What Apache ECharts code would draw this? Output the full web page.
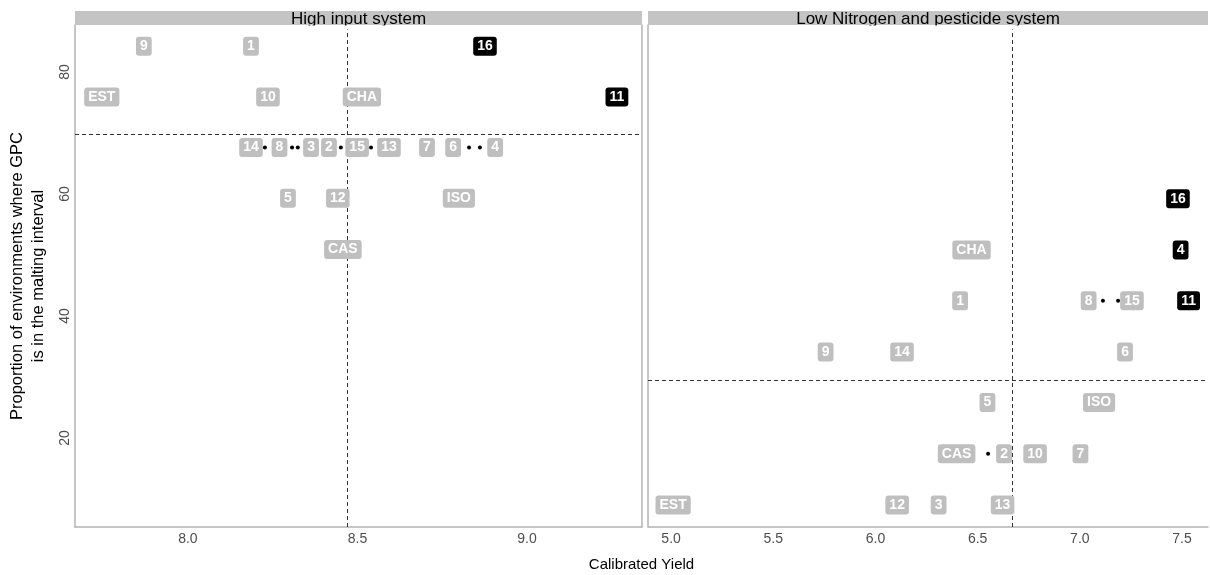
<!DOCTYPE html>
<html>
<head>
<meta charset="utf-8">
<script src="https://cdn.jsdelivr.net/npm/echarts@6/dist/echarts.min.js"></script>
<style>html,body{margin:0;padding:0;background:#fff}#c{width:1210px;height:575px}</style>
</head>
<body>
<div id="c"></div>
<script>
// ---- Data: High input system ----
const highNames = ['9','1','16','EST','10','CHA','11','14','8','3','2','15','13','7','6','4','5','12','ISO','CAS'];
const highYield = [7.870,8.186,8.876,7.746,8.236,8.513,9.265,8.186,8.270,8.363,8.416,8.499,8.593,8.705,8.782,8.906,8.295,8.442,8.799,8.457];
const highProp  = [84.2,84.2,84.2,75.9,75.9,75.9,75.9,67.6,67.6,67.6,67.6,67.6,67.6,67.6,67.6,67.6,59.3,59.3,59.3,50.9];
const highTop = ['16','11'];
const highDotYield = [8.227,8.307,8.324,8.451,8.540,8.829,8.861];
const highDotProp  = [67.6,67.6,67.6,67.6,67.6,67.6,67.6];
const highMeanYield = 8.47;
const highMeanProp = 69.8;

// ---- Data: Low Nitrogen and pesticide system ----
const lowNames = ['16','CHA','4','1','8','15','11','9','14','6','5','ISO','CAS','2','10','7','EST','12','3','13'];
const lowYield = [7.480,6.470,7.493,6.414,7.043,7.255,7.532,5.756,6.130,7.221,6.548,7.094,6.397,6.629,6.781,7.003,5.010,6.106,6.309,6.622];
const lowProp  = [59.2,50.8,50.8,42.5,42.5,42.5,42.5,34.1,34.1,34.1,25.8,25.8,17.4,17.4,17.4,17.4,9.0,9.0,9.0,9.0];
const lowTop = ['16','4','11'];
const lowDotYield = [7.113,7.187,6.551];
const lowDotProp  = [42.5,42.5,17.4];
const lowMeanYield = 6.668;
const lowMeanProp = 29.5;

// ---- Tick labels ----
const xTicksHigh = [8.0, 8.5, 9.0];
const xTicksLow = [5.0, 5.5, 6.0, 6.5, 7.0, 7.5];
const yTicks = [20, 40, 60, 80];
const panelTitles = ['High input system', 'Low Nitrogen and pesticide system'];

const FONT = '"Liberation Sans", Arial, Helvetica, sans-serif';
const AXIS_COLOR = '#b3b3b3';

const L = {top: 25, bottom: 48, leftA: 75, rightA: 642, leftB: 648, rightB: 1208, W: 1210};

function labelSeries(xi, names, xs, ys, keep, bg) {
  return {
    type: 'scatter', xAxisIndex: xi, yAxisIndex: xi, symbolSize: 1, silent: true, z: 5,
    itemStyle: {color: 'rgba(0,0,0,0)', opacity: 1},
    emphasis: {disabled: true},
    data: names.map((n, i) => ({name: n, value: [xs[i], ys[i]]})).filter(d => keep(d.name)),
    label: {
      show: true, position: 'inside', formatter: '{b}', color: '#fff', opacity: 1,
      fontFamily: FONT, fontWeight: 'bold', fontSize: 14, lineHeight: 14,
      backgroundColor: bg, borderRadius: 3, padding: [3, 4, 2, 4]
    }
  };
}
function dotSeries(xi, xs, ys, mx, my) {
  return {
    type: 'scatter', xAxisIndex: xi, yAxisIndex: xi, symbolSize: 4, silent: true, z: 3,
    itemStyle: {color: '#000', opacity: 1}, emphasis: {disabled: true},
    data: xs.map((x, i) => [x, ys[i]]),
    markLine: {
      silent: true, symbol: 'none', animation: false,
      label: {show: false},
      lineStyle: {type: [4, 3], color: '#333', width: 1},
      data: [{xAxis: mx}, {yAxis: my}]
    }
  };
}
function xAxisCfg(gi, min, max, ticks) {
  return {
    type: 'value', gridIndex: gi, min: min, max: max,
    axisLine: {show: true, lineStyle: {color: AXIS_COLOR, width: 1.5}},
    axisTick: {show: false},
    splitLine: {show: false},
    axisLabel: {customValues: ticks, formatter: v => v.toFixed(1), color: '#4d4d4d', fontSize: 14, fontFamily: FONT, margin: 5}
  };
}

const chart = echarts.init(document.getElementById('c'), null, {renderer: 'canvas'});
chart.setOption({
  animation: false,
  textStyle: {fontFamily: FONT},
  grid: [
    {left: L.leftA, right: L.W - L.rightA, top: L.top, bottom: L.bottom},
    {left: L.leftB, right: L.W - L.rightB, top: L.top, bottom: L.bottom}
  ],
  xAxis: [
    xAxisCfg(0, 7.667, 9.339, xTicksHigh),
    xAxisCfg(1, 4.887, 7.627, xTicksLow)
  ],
  yAxis: [
    {
      type: 'value', gridIndex: 0, min: 5.41, max: 87.7,
      axisLine: {show: true, lineStyle: {color: AXIS_COLOR, width: 1.5}},
      axisTick: {show: false}, splitLine: {show: false},
      axisLabel: {customValues: yTicks, rotate: 90, color: '#4d4d4d', fontSize: 14, fontFamily: FONT, margin: 3},
      name: 'Proportion of environments where GPC\nis in the malting interval',
      nameLocation: 'middle', nameGap: 26,
      nameTextStyle: {color: '#000', fontSize: 16.5, lineHeight: 21, fontFamily: FONT}
    },
    {
      type: 'value', gridIndex: 1, min: 5.41, max: 87.7,
      axisLine: {show: true, lineStyle: {color: AXIS_COLOR, width: 1.5}},
      axisTick: {show: false}, splitLine: {show: false}, axisLabel: {show: false}
    },
    {
      type: 'value', gridIndex: 0, min: 5.41, max: 87.7, position: 'right',
      axisLine: {show: true, onZero: false, lineStyle: {color: AXIS_COLOR, width: 1.5}},
      axisTick: {show: false}, splitLine: {show: false}, axisLabel: {show: false}
    }
  ],
  graphic: [
    {type: 'rect', z: 50, shape: {x: L.leftA, y: 11, width: L.rightA - L.leftA, height: 14}, style: {fill: '#c4c4c4'}},
    {type: 'rect', z: 50, shape: {x: L.leftB, y: 11, width: L.rightB - L.leftB, height: 14}, style: {fill: '#c4c4c4'}},
    {type: 'text', z: 51, x: (L.leftA + L.rightA) / 2, y: 19, style: {text: panelTitles[0], fill: '#000', font: '17px ' + FONT, textAlign: 'center', textVerticalAlign: 'middle'}},
    {type: 'text', z: 51, x: (L.leftB + L.rightB) / 2, y: 19, style: {text: panelTitles[1], fill: '#000', font: '17px ' + FONT, textAlign: 'center', textVerticalAlign: 'middle'}},
    {type: 'rect', z: 52, shape: {x: L.leftA + 1, y: 25.5, width: L.rightA - L.leftA - 2, height: 4}, style: {fill: '#fff'}},
    {type: 'rect', z: 52, shape: {x: L.leftB + 1, y: 25.5, width: L.rightB - L.leftB - 2, height: 4}, style: {fill: '#fff'}},
    {type: 'text', x: (L.leftA + L.rightB) / 2, y: 565, style: {text: 'Calibrated Yield', fill: '#000', font: '15px ' + FONT, textAlign: 'center', textVerticalAlign: 'middle'}}
  ],
  series: [
    dotSeries(0, highDotYield, highDotProp, highMeanYield, highMeanProp),
    labelSeries(0, highNames, highYield, highProp, n => !highTop.includes(n), '#bfbfbf'),
    labelSeries(0, highNames, highYield, highProp, n => highTop.includes(n), '#000'),
    dotSeries(1, lowDotYield, lowDotProp, lowMeanYield, lowMeanProp),
    labelSeries(1, lowNames, lowYield, lowProp, n => !lowTop.includes(n), '#bfbfbf'),
    labelSeries(1, lowNames, lowYield, lowProp, n => lowTop.includes(n), '#000')
  ]
});
</script>
</body>
</html>
